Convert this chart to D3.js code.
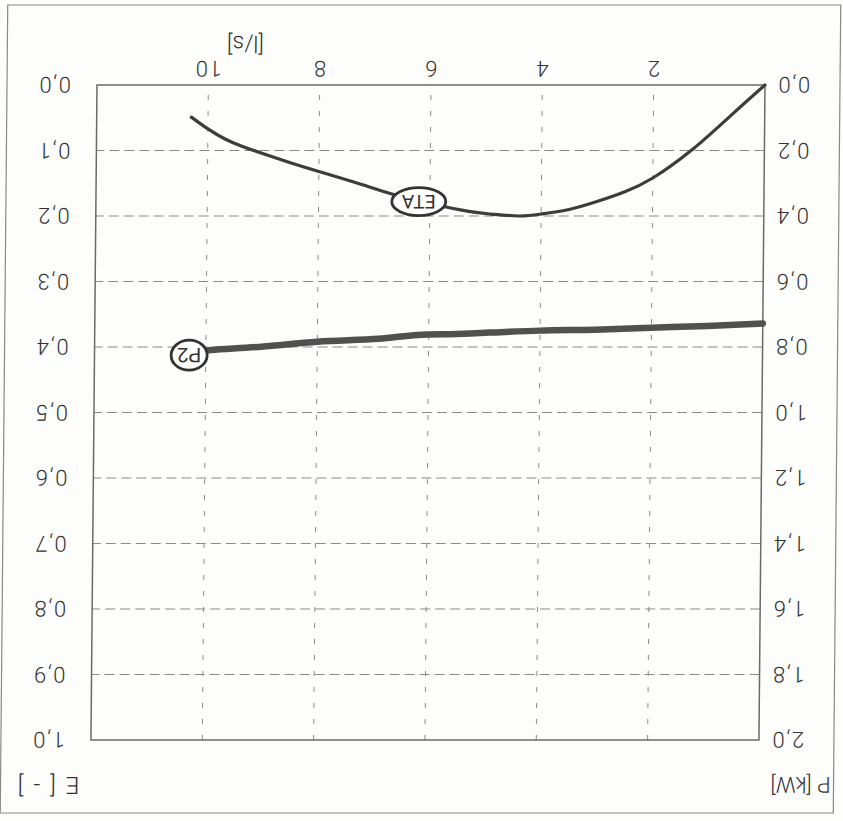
<!DOCTYPE html>
<html>
<head>
<meta charset="utf-8">
<script src="https://cdn.jsdelivr.net/npm/d3@7"></script>
<style>
  body { margin: 0; background: #fff; }
  text { font-family: Roboto, "Liberation Sans", Arial, sans-serif; font-weight: 300; fill: #333; }
</style>
</head>
<body>
<div id="chart"></div>
<script>
// chart data (read from the scanned sheet, which is printed upside down)
const flowTicks = [2, 4, 6, 8, 10];
const powerTicks = [0, 0.2, 0.4, 0.6, 0.8, 1.0, 1.2, 1.4, 1.6, 1.8, 2.0];
const effTicks = [0, 0.1, 0.2, 0.3, 0.4, 0.5, 0.6, 0.7, 0.8, 0.9, 1.0];

const etaFlow  = [0, 0.6, 1.3, 2.0, 2.5, 3.0, 3.5, 4.0, 4.4, 4.9, 5.3, 6.0, 6.7, 7.3, 8.0, 8.5, 9.0, 9.4, 9.7, 10.0, 10.3];
const etaValue = [0, 0.046, 0.099, 0.142, 0.163, 0.178, 0.190, 0.197, 0.200, 0.197, 0.193, 0.181, 0.166, 0.150, 0.132, 0.119, 0.105, 0.093, 0.082, 0.067, 0.049];

const p2Flow  = [0, 1.0, 2.0, 3.0, 4.0, 4.9, 5.5, 6.2, 6.9, 8.0, 9.0, 9.9, 10.3];
const p2Value = [0.728, 0.736, 0.741, 0.747, 0.750, 0.756, 0.760, 0.763, 0.775, 0.784, 0.799, 0.809, 0.815];

const etaLabel = {flow: 6.2, value: 0.178, text: "ETA"};
const p2Label = {flow: 10.3, value: 0.825, text: "P2"};

var W = 843, H = 821;
var plot = {left: 78, right: 746, top: 81, bottom: 736};

var svg = d3.select("#chart").append("svg")
    .attr("width", W).attr("height", H);

svg.append("rect").attr("width", W).attr("height", H).attr("fill", "#fdfdfc");

// the whole sheet is turned 180 degrees, with a slight scan skew
var g = svg.append("g")
    .attr("transform", "translate(0,85) skewX(-0.53) translate(0,-85) translate(" + W + "," + H + ") rotate(180)");

// outer frame of the sheet
g.append("rect")
    .attr("x", 3).attr("y", 8).attr("width", 833).attr("height", 808)
    .attr("fill", "none").attr("stroke", "#888").attr("stroke-width", 1.2);

var x = d3.scaleLinear().domain([0, 12]).range([plot.left, plot.right]);
var yP = d3.scaleLinear().domain([0, 2]).range([plot.bottom, plot.top]);
var yE = d3.scaleLinear().domain([0, 1]).range([plot.bottom, plot.top]);

var comma = v => d3.format(".1f")(v).replace(".", ",");

// grid
g.append("g").selectAll("line")
    .data(flowTicks).enter().append("line")
    .attr("x1", d => x(d)).attr("x2", d => x(d))
    .attr("y1", plot.top).attr("y2", plot.bottom)
    .attr("stroke", "#8a8a8a").attr("stroke-width", 1)
    .attr("stroke-dasharray", "5,11");

g.append("g").selectAll("line")
    .data(effTicks.slice(1, -1)).enter().append("line")
    .attr("x1", plot.left).attr("x2", plot.right)
    .attr("y1", d => yE(d)).attr("y2", d => yE(d))
    .attr("stroke", "#8a8a8a").attr("stroke-width", 1)
    .attr("stroke-dasharray", "10,5");

// plot frame
g.append("rect")
    .attr("x", plot.left).attr("y", plot.top)
    .attr("width", plot.right - plot.left).attr("height", plot.bottom - plot.top)
    .attr("fill", "none").attr("stroke", "#6a6a6a").attr("stroke-width", 1.5);

// axes (labels only)
var xAxis = g.append("g")
    .attr("transform", "translate(0," + plot.bottom + ")")
    .call(d3.axisBottom(x).tickValues(flowTicks).tickSize(0).tickPadding(8).tickFormat(d3.format("d")));

var pAxis = g.append("g")
    .attr("transform", "translate(" + plot.left + ",0)")
    .call(d3.axisLeft(yP).tickValues(powerTicks).tickSize(0).tickPadding(12).tickFormat(comma));

var eAxis = g.append("g")
    .attr("transform", "translate(" + plot.right + ",0)")
    .call(d3.axisRight(yE).tickValues(effTicks).tickSize(0).tickPadding(26).tickFormat(comma));

[xAxis, pAxis, eAxis].forEach(a => {
    a.select(".domain").remove();
    a.selectAll("text").attr("fill", "#333").style("font-size", "22px")
        .style("font-family", "Roboto, 'Liberation Sans', Arial, sans-serif")
        .style("font-weight", 300).style("letter-spacing", "1.5px");
});

// axis titles
g.append("text").attr("x", 598).attr("y", 785).attr("text-anchor", "middle")
    .style("font-size", "23px").text("[l/s]");
g.append("text").attr("x", 36).attr("y", 44).attr("text-anchor", "middle")
    .style("font-size", "22px").text("P [kW]");
g.append("text").attr("x", 789).attr("y", 44).attr("text-anchor", "middle")
    .style("font-size", "24px").style("letter-spacing", "2px").text("E [ - ]");

// curves
var etaData = etaFlow.map((f, i) => [f, etaValue[i]]);
var p2Data = p2Flow.map((f, i) => [f, p2Value[i]]);

g.append("path")
    .datum(p2Data)
    .attr("fill", "none").attr("stroke", "#505050").attr("stroke-width", 6.5)
    .attr("stroke-linecap", "round")
    .attr("d", d3.line().x(d => x(d[0])).y(d => yP(d[1])).curve(d3.curveCatmullRom.alpha(0.5)));

g.append("path")
    .datum(etaData)
    .attr("fill", "none").attr("stroke", "#3c3c3c").attr("stroke-width", 3.2)
    .attr("stroke-linecap", "round")
    .attr("d", d3.line().x(d => x(d[0])).y(d => yE(d[1])).curve(d3.curveNatural));

// curve labels
function curveLabel(px, py, rx, ry, txt, size) {
    g.append("ellipse").attr("cx", px).attr("cy", py).attr("rx", rx).attr("ry", ry)
        .attr("fill", "#fff").attr("stroke", "#333").attr("stroke-width", 2.8);
    g.append("text").attr("x", px).attr("y", py).attr("dy", "0.36em")
        .attr("text-anchor", "middle").style("font-size", size + "px")
        .style("font-weight", 400).text(txt);
}
curveLabel(x(etaLabel.flow), yE(etaLabel.value), 27, 14, etaLabel.text, 19);
curveLabel(x(p2Label.flow), yP(p2Label.value), 18, 15, p2Label.text, 20);
</script>
</body>
</html>
